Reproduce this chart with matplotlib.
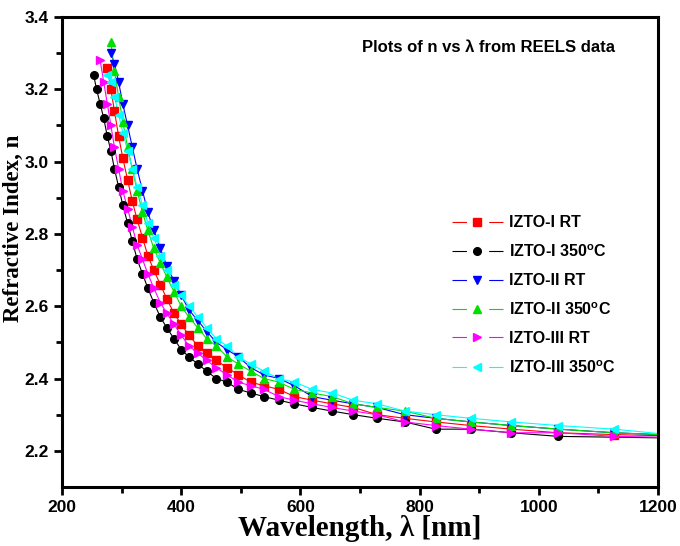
import matplotlib
matplotlib.use('Agg')
import matplotlib.pyplot as plt
from matplotlib.lines import Line2D

# wavelength grid (nm) of the REELS points, short -> long
lam = [253, 258, 264, 270, 276, 282, 288, 295, 302, 310, 318, 326, 335, 344,
       354, 365, 376, 388, 400, 413, 428, 443, 459, 477, 496, 517, 539, 564,
       590, 620, 653, 689, 729, 775, 827, 886, 954, 1033, 1127]

# refractive index per sample (each series starts at a different grid point)
n_1rt = [3.26, 3.20, 3.14, 3.07, 3.01, 2.95, 2.89, 2.84, 2.79, 2.74, 2.70,
         2.66, 2.62, 2.58, 2.55, 2.52, 2.49, 2.47, 2.45, 2.43, 2.41, 2.39,
         2.38, 2.37, 2.35, 2.34, 2.33, 2.32, 2.30, 2.29, 2.28, 2.27, 2.26,
         2.25, 2.245]
n_1350 = [3.24, 3.20, 3.16, 3.12, 3.07, 3.03, 2.98, 2.93, 2.88, 2.83, 2.78,
          2.73, 2.69, 2.65, 2.61, 2.57, 2.54, 2.51, 2.48, 2.46, 2.44, 2.42,
          2.40, 2.39, 2.37, 2.36, 2.35, 2.34, 2.33, 2.32, 2.31, 2.30, 2.29,
          2.28, 2.26, 2.26, 2.25, 2.24]
n_2rt = [3.30, 3.27, 3.22, 3.16, 3.10, 3.04, 2.98, 2.92, 2.86, 2.81, 2.76,
         2.71, 2.67, 2.63, 2.59, 2.56, 2.53, 2.50, 2.48, 2.46, 2.43, 2.41,
         2.40, 2.38, 2.35, 2.34, 2.33, 2.32, 2.30, 2.29, 2.28, 2.27, 2.26,
         2.25]
n_2350 = [3.33, 3.25, 3.18, 3.11, 3.04, 2.98, 2.92, 2.86, 2.81, 2.76, 2.72,
          2.68, 2.64, 2.60, 2.57, 2.54, 2.51, 2.49, 2.46, 2.44, 2.42, 2.40,
          2.39, 2.37, 2.36, 2.35, 2.33, 2.32, 2.31, 2.29, 2.28, 2.27, 2.26,
          2.25]
n_3rt = [3.28, 3.22, 3.16, 3.10, 3.04, 2.98, 2.92, 2.87, 2.82, 2.77, 2.73,
         2.69, 2.65, 2.61, 2.58, 2.55, 2.52, 2.49, 2.47, 2.45, 2.43, 2.41,
         2.39, 2.38, 2.37, 2.35, 2.34, 2.33, 2.32, 2.31, 2.30, 2.28, 2.27,
         2.26, 2.25, 2.25, 2.24]
n_3350 = [3.24, 3.22, 3.18, 3.13, 3.08, 3.03, 2.98, 2.93, 2.88, 2.83, 2.79,
          2.74, 2.70, 2.66, 2.63, 2.60, 2.57, 2.54, 2.51, 2.49, 2.46, 2.44,
          2.42, 2.40, 2.39, 2.37, 2.36, 2.34, 2.33, 2.31, 2.30, 2.29, 2.28,
          2.27, 2.26]

# value where each curve meets the right axis (1200 nm)
n_1200 = [2.242, 2.236, 2.245, 2.245, 2.238, 2.248]

labels = ['IZTO-I RT', 'IZTO-I 350$^{\\mathregular{o}}$C', 'IZTO-II RT',
          'IZTO-II 350$^{\\mathregular{o}}$C', 'IZTO-III RT',
          'IZTO-III 350$^{\\mathregular{o}}$C']
colors = ['#ff0000', '#000000', '#0000ff', '#00e000', '#ff00ff', '#00ffff']
markers = ['s', 'o', 'v', '^', '>', '<']
series = [n_1rt, n_1350, n_2rt, n_2350, n_3rt, n_3350]
starts = [4, 0, 5, 5, 2, 4]

plt.rcParams['font.family'] = ['Liberation Sans', 'DejaVu Sans']
plt.rcParams['font.weight'] = 'bold'

fig = plt.figure(figsize=(6.8, 5.46), dpi=100)
ax = fig.add_axes([62/680, 1 - 487/546, 596/680, 470/546])

handles = []
for n, s, c, m, lab, nend in zip(series, starts, colors, markers, labels, n_1200):
    x = lam[s:s + len(n)]
    ax.plot(x + [1200], n + [nend], color=c, lw=0.8, zorder=2)
    ax.plot(x, n, ls='none', marker=m, color=c, ms=5.5, zorder=3)
    # legend sample drawn as "line - marker - line" with gaps, like the original
    handles.append(Line2D([], [], color=c, lw=0.8, marker=m, ms=5.5,
                          dashes=(13, 20), label=lab))

ax.set_xlim(200, 1200)
ax.set_ylim(2.1, 3.4)
ax.set_xticks(range(200, 1201, 200))
ax.set_xticks(range(300, 1200, 200), minor=True)
ax.set_yticks([2.2, 2.4, 2.6, 2.8, 3.0, 3.2, 3.4])
ax.set_yticks([2.3, 2.5, 2.7, 2.9, 3.1, 3.3], minor=True)
ax.set_yticklabels(['2.2', '2.4', '2.6', '2.8', '3.0', '3.2', '3.4'])
ax.tick_params(which='both', direction='out', width=2, labelsize=12.5,
               top=False, right=False)
ax.tick_params(which='major', length=6)
ax.tick_params(which='minor', length=4)
for sp in ax.spines.values():
    sp.set_linewidth(2.2)

ax.set_xlabel('Wavelength, \u03bb [nm]', family='Liberation Serif',
              fontsize=21, fontweight='bold', labelpad=0)
ax.set_ylabel('Refractive Index, n', family='Liberation Serif',
              fontsize=16.5, fontweight='bold')
ax.yaxis.set_label_coords(-0.064, 0.55)

ax.text(0.503, 0.936, 'Plots of n vs \u03bb from REELS data',
        transform=ax.transAxes, fontsize=12, fontweight='bold', va='center')

ax.legend(handles=handles, loc='upper left', bbox_to_anchor=(0.654, 0.578),
          frameon=False, fontsize=11.5, handlelength=3.2, handletextpad=0.4,
          labelspacing=0.82, borderpad=0, borderaxespad=0)

fig.savefig('out.png', dpi=100)
